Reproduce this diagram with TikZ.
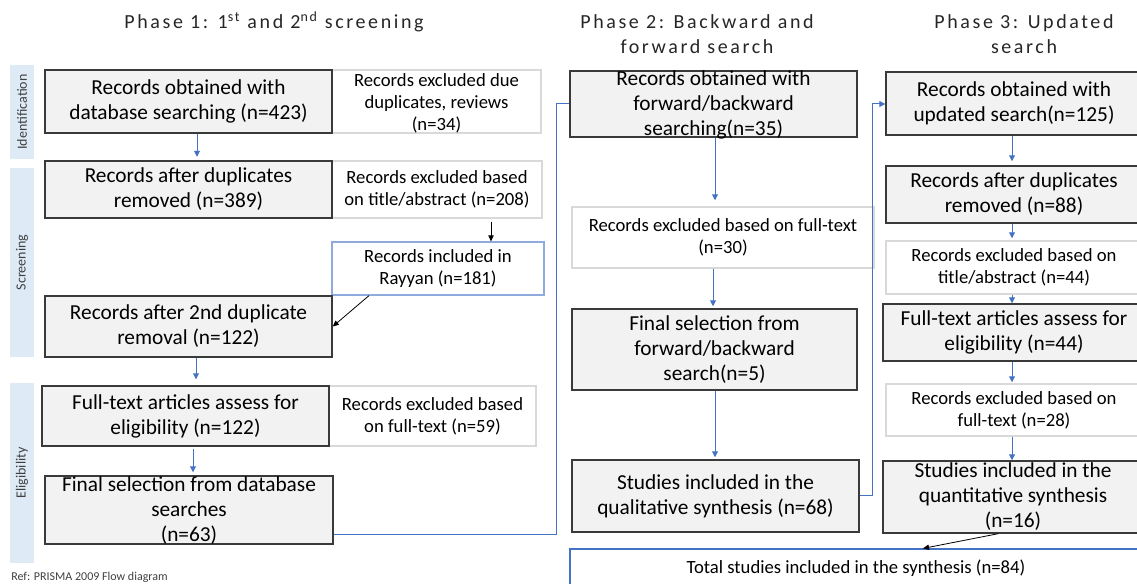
\documentclass[tikz,border=0pt]{standalone}
\usepackage{fontspec}
\setmainfont{Carlito}
\usetikzlibrary{arrows.meta,fit}
\newdimen\px \px=0.75pt
\definecolor{boxfill}{HTML}{F2F2F2}
\definecolor{boxline}{HTML}{3A3A3A}
\definecolor{lightline}{HTML}{D9D9D9}
\definecolor{blueline}{HTML}{4472C4}
\definecolor{rayline}{HTML}{8FAADC}
\definecolor{barfill}{HTML}{DEEBF7}
\definecolor{labelgray}{HTML}{404040}
\definecolor{titlegray}{HTML}{262626}
\tikzset{
 darkbox/.style={draw=boxline, fill=boxfill, line width=1.1pt, inner sep=0pt},
 lightbox/.style={draw=lightline, fill=white, line width=1.1pt, inner sep=0pt},
 bluebox/.style={draw=rayline, fill=white, line width=0.9pt, inner sep=0pt},
 totalbox/.style={draw=blueline, fill=white, line width=0.9pt, inner sep=0pt},
 bigtxt/.style={align=center, font=\fontsize{16}{18.75}\selectfont, inner sep=0pt},
 smalltxt/.style={align=center, font=\fontsize{14}{16.5}\selectfont, inner sep=0pt},
 barrow/.style={draw=blueline, line width=0.75pt, -{Triangle[length=4.5pt,width=4.5pt]}},
 karrow/.style={draw=black, line width=0.6pt, -{Triangle[length=4.5pt,width=4pt]}},
 bline/.style={draw=blueline, line width=0.75pt},
 sidebar/.style={fill=barfill, draw=none, inner sep=0pt},
 sidelabel/.style={rotate=90, font=\fontsize{10.5}{12}\selectfont, text=labelgray, inner sep=0pt},
 phase/.style={align=center, font=\fontsize{15}{18.75}\selectfont\addfontfeature{LetterSpace=13}, text=titlegray, inner sep=0pt}
}
\begin{document}
\begin{tikzpicture}[x=0.75pt,y=-0.75pt]
\useasboundingbox (0,0) rectangle (1137,584);
\clip (0,0) rectangle (1137,584);

% phase titles
\node[phase] (p1) at (274,22) {Phase 1: 1\textsuperscript{st} and 2\textsuperscript{nd} screening};
\node[phase] (p2) at (697,34.5) {Phase 2: Backward and\\forward search};
\node[phase] (p3) at (1024,34.5) {Phase 3: Updated\\search};

% side bars
\node[sidebar, fit={(10,65)(34,159)}] (bid) {};
\node[sidelabel] (bidt) at (bid.center) {Identification};
\node[sidebar, fit={(10,168)(34,357)}] (bsc) {};
\node[sidelabel] (bsct) at (bsc.center) {Screening};
\node[sidebar, fit={(10,383)(34,563)}] (bel) {};
\node[sidelabel] (belt) at (bel.center) {Eligibility};

% phase 1
\node[lightbox, fit={(332,70)(541,133)}] (a1x) {};
\node[smalltxt] (a1xt) at (436.5,103) {Records excluded due\\duplicates, reviews\\(n=34)};
\node[darkbox, fit={(45,70)(332,133)}] (a1) {};
\node[bigtxt] (a1t) at (a1.center) {Records obtained with\\database searching (n=423)};

\node[lightbox, fit={(332,161)(542,218)}] (a2x) {};
\node[smalltxt] (a2xt) at (a2x.center) {Records excluded based\\on title/abstract (n=208)};
\node[darkbox, fit={(45,161)(332,218)}] (a2) {};
\node[bigtxt] (a2t) at (a2.center) {Records after duplicates\\removed (n=389)};

\node[bluebox, fit={(332,242)(544,295)}] (r) {};
\node[smalltxt] (rt) at (r.center) {Records included in\\Rayyan (n=181)};

\node[darkbox, fit={(45,296)(332,357)}] (a3) {};
\node[bigtxt] (a3t) at (a3.center) {Records after 2nd duplicate\\removal (n=122)};

\node[lightbox, fit={(329,386)(536,446)}] (a4x) {};
\node[smalltxt] (a4xt) at (a4x.center) {Records excluded based\\on full-text (n=59)};
\node[darkbox, fit={(42,386)(329,446)}] (a4) {};
\node[bigtxt] (a4t) at (a4.center) {Full-text articles assess for\\eligibility (n=122)};

\node[darkbox, fit={(45,476)(333,544)}] (a5) {};
\node[bigtxt] (a5t) at (189,511) {Final selection from database\\searches\\(n=63)};

\node[anchor=west, inner sep=0pt, font=\fontsize{9}{11}\selectfont, text=labelgray] (ref) at (11,577) {Ref: PRISMA 2009 Flow diagram};

% phase 2
\node[darkbox, fit={(570,71)(857,137)}] (b1) {};
\node[bigtxt] (b1t) at (713.5,105) {Records obtained with\\forward/backward\\searching(n=35)};
\node[lightbox, fit={(572,207)(874,268)}] (b2) {};
\node[smalltxt] (b2t) at (b2.center) {Records excluded based on full-text\\(n=30)};
\node[darkbox, fit={(572,309)(857,390)}] (b3) {};
\node[bigtxt] (b3t) at (b3.center) {Final selection from\\forward/backward\\search(n=5)};
\node[darkbox, fit={(572,460)(859,532)}] (b4) {};
\node[bigtxt] (b4t) at (b4.center) {Studies included in the\\qualitative synthesis (n=68)};

\node[totalbox, fit={(570,549)(1142,600)}] (t) {};
\node[smalltxt] (tt) at (856,568) {Total studies included in the synthesis (n=84)};

% phase 3
\node[darkbox, fit={(886,72)(1142,135)}] (c1) {};
\node[bigtxt] (c1t) at (1014,103.5) {Records obtained with\\updated search(n=125)};
\node[darkbox, fit={(886,166)(1142,223)}] (c2) {};
\node[bigtxt] (c2t) at (1014,194.5) {Records after duplicates\\removed (n=88)};
\node[lightbox, fit={(886,241)(1142,294)}] (c3) {};
\node[smalltxt] (c3t) at (1014,267.5) {Records excluded based on\\title/abstract (n=44)};
\node[darkbox, fit={(883,304)(1145,361)}] (c4) {};
\node[bigtxt] (c4t) at (1014,332.5) {Full-text articles assess for\\eligibility (n=44)};
\node[lightbox, fit={(886,384)(1142,436)}] (c5) {};
\node[smalltxt] (c5t) at (1014,410) {Records excluded based on\\full-text (n=28)};
\node[darkbox, fit={(883,461)(1145,533)}] (c6) {};
\node[bigtxt] (c6t) at (1013,497) {Studies included in the\\quantitative synthesis\\(n=16)};

% connectors phase 1
\draw[barrow, shorten >=3.5\px] (197,0 |- a1.south) -- (197,0 |- a2.north);
\draw[karrow, shorten <=3\px] (491,0 |- a2x.south) -- (491,0 |- r.north);
\draw[karrow] (369,0 |- r.south) -- (a3.east);
\draw[barrow, shorten >=6\px] (196,0 |- a3.south) -- (196,0 |- a4.north);
\draw[barrow, shorten >=3\px, shorten <=2\px] (193,0 |- a4.south) -- (193,0 |- a5.north);
\coordinate (j1) at (556,534);
\coordinate (j2) at (556,104);
\draw[bline] (a5.east |- j1) -- (j1) -- (j2) -- (b1.west |- j2);

% connectors phase 2
\draw[barrow, shorten >=6\px] (715,0 |- b1.south) -- (715,0 |- b2.north);
\draw[barrow, shorten >=2\px] (713,0 |- b2.south) -- (713,0 |- b3.north);
\draw[barrow, shorten >=2\px] (715,0 |- b3.south) -- (715,0 |- b4.north);
\coordinate (j3) at (872,495);
\coordinate (j4) at (872,104);
\draw[barrow] (b4.east |- j3) -- (j3) -- (j4) -- (c1.west |- j4);

% connectors phase 3
\draw[barrow, shorten >=4\px] (1012,0 |- c1.south) -- (1012,0 |- c2.north);
\draw[barrow, shorten >=2\px] (1012,0 |- c2.south) -- (1012,0 |- c3.north);
\draw[barrow] (1012,0 |- c3.south) -- (1012,0 |- c4.north);
\draw[barrow, shorten >=1\px] (1012,0 |- c4.south) -- (1012,0 |- c5.north);
\draw[barrow] (1012,0 |- c5.south) -- (1012,0 |- c6.north);
\draw[karrow] (998,0 |- c6.south) -- (923,0 |- t.north);
\end{tikzpicture}
\end{document}
